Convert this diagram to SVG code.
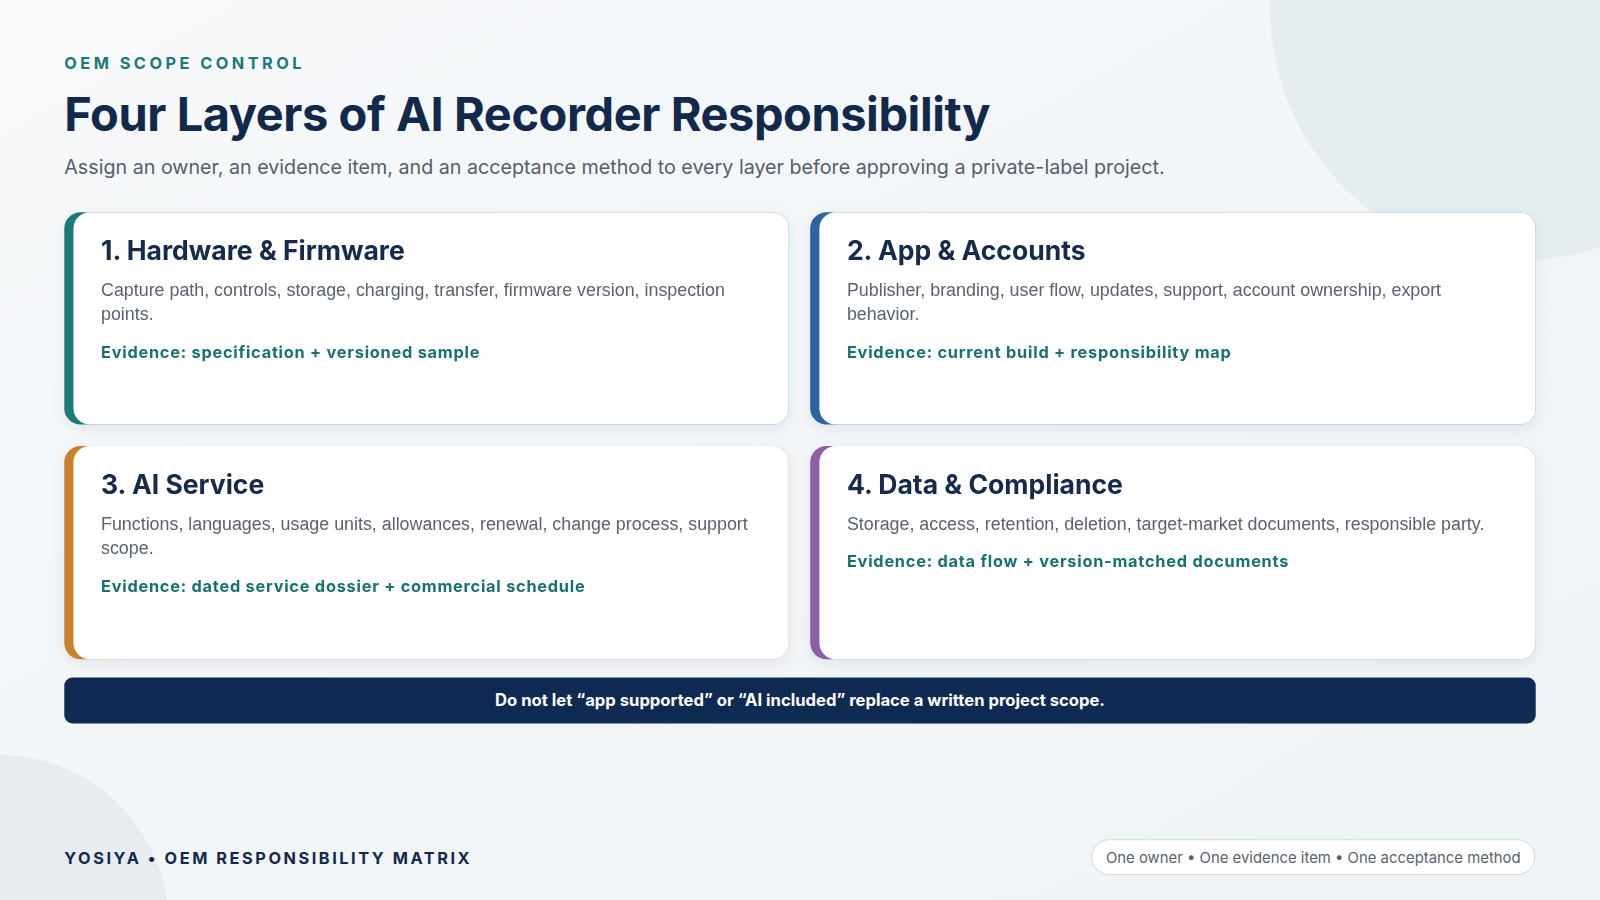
<svg xmlns="http://www.w3.org/2000/svg" width="1600" height="900" viewBox="0 0 1600 900">
<defs>
<linearGradient id="bg" x1="0" y1="0" x2="1" y2="1"><stop offset="0" stop-color="#f7f9fb"/><stop offset="1" stop-color="#eef3f5"/></linearGradient>
<filter id="sh" x="-5%" y="-10%" width="110%" height="125%"><feDropShadow dx="0" dy="4" stdDeviation="6" flood-color="#1a2b4a" flood-opacity="0.07"/></filter>
<style>
text{font-family:Inter,"Liberation Sans",Arial,sans-serif}
.h{font-size:26px;font-weight:700;fill:#13294b}
.b{font-size:17.5px;fill:#5a6270;font-family:"Liberation Sans",Arial,sans-serif}
.e{font-size:16px;font-weight:700;fill:#16716f;letter-spacing:0.75px}
</style>
</defs>
<rect width="1600" height="900" fill="url(#bg)"/>
<g transform="scale(1.0204)">
<circle cx="1490" cy="10" r="245" fill="#e2ebee" opacity="0.8"/>
<circle cx="0" cy="905" r="165" fill="#e4eaef" opacity="0.8"/>
<text x="63" y="68" font-size="16" font-weight="700" fill="#1a7a78" letter-spacing="3.4">OEM SCOPE CONTROL</text>
<text x="63" y="128" font-size="46" font-weight="700" fill="#13294b" letter-spacing="-0.4">Four Layers of AI Recorder Responsibility</text>
<text x="63" y="171" font-size="19.3" fill="#555e6b">Assign an owner, an evidence item, and an acceptance method to every layer before approving a private-label project.</text>
<g id="card1" filter="url(#sh)">
<rect x="63" y="208" width="710" height="208" rx="16" fill="#1a7a78"/>
<rect x="72" y="208" width="701" height="208" rx="16" fill="#fff"/>
<text x="99" y="255" class="h">1. Hardware &amp; Firmware</text>
<text x="99" y="290" class="b">Capture path, controls, storage, charging, transfer, firmware version, inspection</text>
<text x="99" y="314" class="b">points.</text>
<text x="99" y="351" class="e">Evidence: specification + versioned sample</text>
</g>
<g id="card2" filter="url(#sh)">
<rect x="794" y="208" width="711" height="208" rx="16" fill="#2f63a0"/>
<rect x="803" y="208" width="702" height="208" rx="16" fill="#fff"/>
<text x="830" y="255" class="h">2. App &amp; Accounts</text>
<text x="830" y="290" class="b">Publisher, branding, user flow, updates, support, account ownership, export</text>
<text x="830" y="314" class="b">behavior.</text>
<text x="830" y="351" class="e">Evidence: current build + responsibility map</text>
</g>
<g id="card3" filter="url(#sh)">
<rect x="63" y="437" width="710" height="209" rx="16" fill="#c9822a"/>
<rect x="72" y="437" width="701" height="209" rx="16" fill="#fff"/>
<text x="99" y="484" class="h">3. AI Service</text>
<text x="99" y="519" class="b">Functions, languages, usage units, allowances, renewal, change process, support</text>
<text x="99" y="543" class="b">scope.</text>
<text x="99" y="580" class="e">Evidence: dated service dossier + commercial schedule</text>
</g>
<g id="card4" filter="url(#sh)">
<rect x="794" y="437" width="711" height="209" rx="16" fill="#8e5ea8"/>
<rect x="803" y="437" width="702" height="209" rx="16" fill="#fff"/>
<text x="830" y="484" class="h">4. Data &amp; Compliance</text>
<text x="830" y="519" class="b">Storage, access, retention, deletion, target-market documents, responsible party.</text>
<text x="830" y="556" class="e">Evidence: data flow + version-matched documents</text>
</g>
<g id="banner">
<rect x="63" y="664" width="1442" height="45" rx="8" fill="#0f2a52"/>
<text x="784" y="692" text-anchor="middle" font-size="16.3" font-weight="700" fill="#fff">Do not let “app supported” or “AI included” replace a written project scope.</text>
</g>
<g id="connectors"/>
<text x="63" y="847" font-size="16" font-weight="700" fill="#13294b" letter-spacing="2.5">YOSIYA • OEM RESPONSIBILITY MATRIX</text>
<g id="pill">
<rect x="1070" y="823" width="434" height="34" rx="17" fill="#fff" stroke="#d5dbe1"/>
<text x="1287" y="846" text-anchor="middle" font-size="14.6" fill="#5a6270">One owner • One evidence item • One acceptance method</text>
</g>
</g>
</svg>
